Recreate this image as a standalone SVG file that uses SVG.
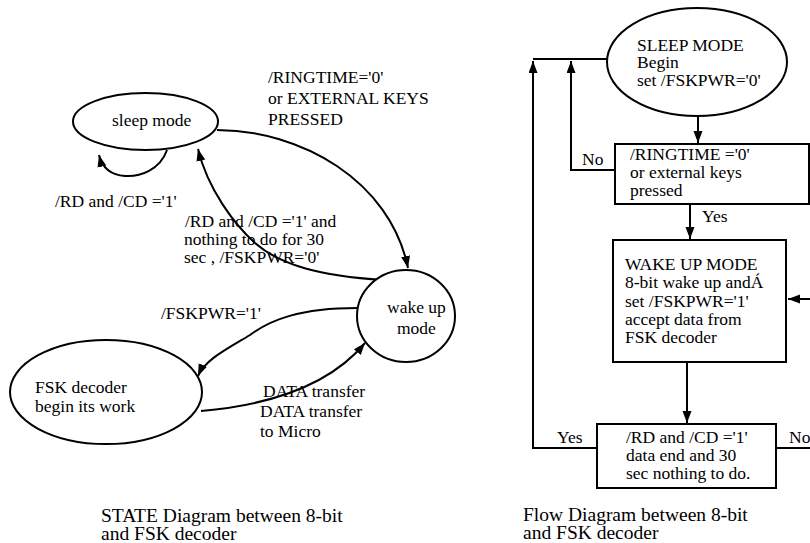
<svg xmlns="http://www.w3.org/2000/svg" width="810" height="543" viewBox="0 0 810 543">
<style>
text{font-family:"Liberation Serif","Times New Roman",serif;font-size:17.5px;fill:#000}
.cap{font-size:19.5px}
.sh{fill:#fff;stroke:#000;stroke-width:2}
.ln{fill:none;stroke:#000;stroke-width:2}
.ar{fill:none;stroke:#000;stroke-width:2;marker-end:url(#ah)}
</style>
<defs>
<marker id="ah" markerUnits="userSpaceOnUse" markerWidth="13" markerHeight="10" refX="12" refY="4.5" orient="auto">
<path d="M0,0 L12,4.5 L0,9 z" fill="#000"/>
</marker>
</defs>
<rect width="810" height="543" fill="#fff"/>

<g id="connectors">
<path class="ar" d="M167,150 C160,170 140,177 125,176 C110,175 102,167 99,155"/>
<path class="ar" d="M217,130 C300,130 390,180 408,268"/>
<path class="ar" d="M383,280 C320,276 280,265 255,243 C235,225 208,190 198,149"/>
<path class="ar" d="M357,308 C300,308 270,320 250,335 C225,350 205,360 198,376"/>
<path class="ar" d="M201,411 C270,405 330,385 365,343"/>

<path class="ar" d="M698,116 L698,143"/>
<path class="ln" d="M607,59 L533,59"/>
<path class="ar" d="M615,170 L571,170 L571,61"/>
<path class="ar" d="M597,448 L533,448 L533,61"/>
<path class="ar" d="M690,204 L690,239"/>
<path class="ar" d="M810,299 L788,299"/>
<path class="ar" d="M687,362 L687,423"/>
<path class="ln" d="M776,448 L810,448"/>
</g>

<g id="sleep-mode">
<ellipse class="sh" cx="145.5" cy="121.5" rx="72.5" ry="28.5"/>
<text x="112" y="126">sleep mode</text>
</g>
<g id="wake-up-mode">
<ellipse class="sh" cx="406" cy="316" rx="49" ry="46"/>
<text x="387" y="313">wake up</text>
<text x="397" y="334">mode</text>
</g>
<g id="fsk-decoder">
<ellipse class="sh" cx="106" cy="392" rx="96" ry="52"/>
<text x="35" y="393">FSK decoder</text>
<text x="35" y="412">begin its work</text>
</g>

<g id="labels-left">
<text x="268" y="83">/RINGTIME='0'</text>
<text x="268" y="104">or EXTERNAL KEYS</text>
<text x="268" y="125">PRESSED</text>
<text x="55" y="207">/RD and /CD ='1'</text>
<text x="185" y="227">/RD and /CD ='1' and</text>
<text x="184" y="245">nothing to do for 30</text>
<text x="184" y="263">sec , /FSKPWR='0'</text>
<text x="161" y="319">/FSKPWR='1'</text>
<text x="263" y="397">DATA transfer</text>
<text x="260" y="417">DATA transfer</text>
<text x="260" y="437">to Micro</text>
</g>

<g id="flow-sleep">
<ellipse class="sh" cx="697" cy="62" rx="90" ry="54"/>
<text x="637" y="50.5">SLEEP MODE</text>
<text x="637" y="68">Begin</text>
<text x="637" y="86">set /FSKPWR='0'</text>
</g>
<g id="flow-ringtime">
<rect class="sh" x="615" y="144" width="194" height="60"/>
<text x="630" y="160">/RINGTIME ='0'</text>
<text x="630" y="178">or external keys</text>
<text x="630" y="196">pressed</text>
</g>
<g id="flow-wakeup">
<rect class="sh" x="613" y="240" width="173" height="122"/>
<text x="625" y="270">WAKE UP MODE</text>
<text x="625" y="288">8-bit wake up andÁ</text>
<text x="625" y="307">set /FSKPWR='1'</text>
<text x="625" y="325">accept data from</text>
<text x="625" y="343">FSK decoder</text>
</g>
<g id="flow-rd">
<rect class="sh" x="597" y="424" width="179" height="64"/>
<text x="626" y="443">/RD and /CD ='1'</text>
<text x="626" y="461">data end and 30</text>
<text x="626" y="479">sec nothing to do.</text>
</g>
<g id="labels-right">
<text x="582" y="165">No</text>
<text x="702" y="222">Yes</text>
<text x="557" y="443">Yes</text>
<text x="789" y="443">No</text>
</g>

<g id="captions">
<text class="cap" x="101" y="522">STATE Diagram between 8-bit</text>
<text class="cap" x="101" y="540">and FSK decoder</text>
<text class="cap" x="523" y="521">Flow Diagram between 8-bit</text>
<text class="cap" x="523" y="539">and FSK decoder</text>
</g>
</svg>
